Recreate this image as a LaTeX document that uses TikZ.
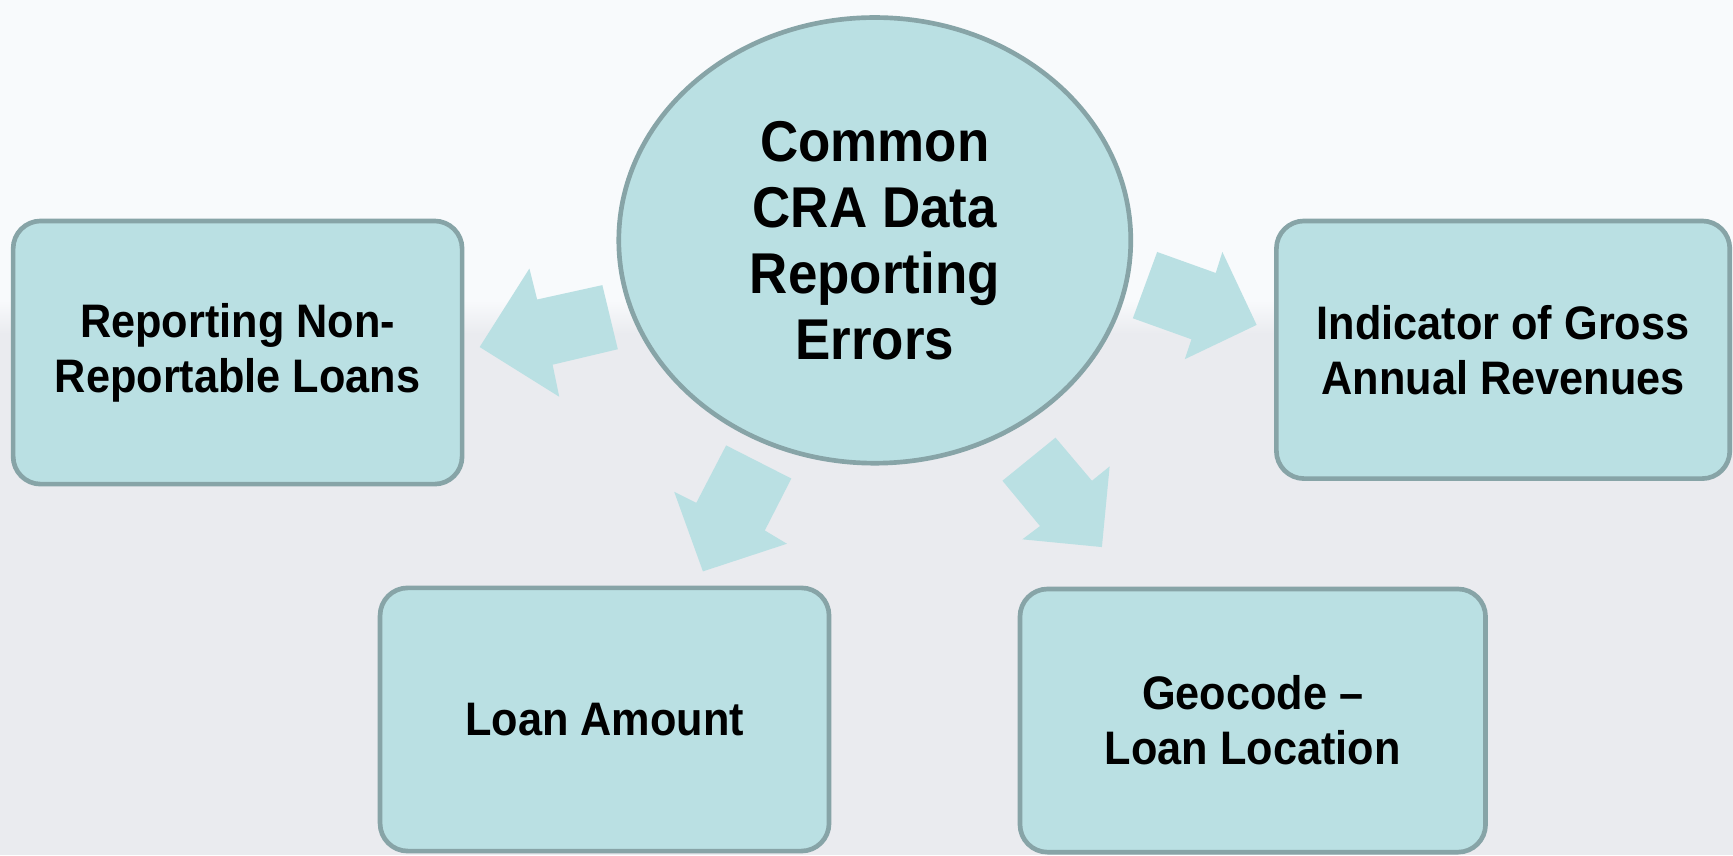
\documentclass[tikz,border=0pt]{standalone}
\usepackage{fontspec}
\setmainfont{Liberation Sans}[FakeStretch=0.92]
\usepackage{xcolor}
\usepackage{tikz}
\usetikzlibrary{shapes.geometric}

\definecolor{boxfill}{HTML}{BAE0E3}
\definecolor{boxline}{HTML}{87A4A7}
\definecolor{bgtop}{HTML}{F8FAFC}
\definecolor{bgbot}{HTML}{EAEBEF}

\begin{document}
\begin{tikzpicture}[x=0.01cm,y=-0.01cm,semithick]
	\tikzstyle{topic}=[draw=boxline, line width=1.2pt, fill=boxfill, rounded corners=0.25cm, align=center, inner sep=0pt, font=\bfseries\fontsize{12.1}{14.2}\selectfont]
	\tikzstyle{hub}=[draw=boxline, line width=1.2pt, fill=boxfill, ellipse, align=center, inner sep=0pt, font=\bfseries\fontsize{14.8}{17}\selectfont]
	\tikzstyle{blockarr}=[fill=boxfill, draw=none]
	% page and background
	\useasboundingbox (0,0) rectangle (1568,774);
	\fill[bgbot] (0,0) rectangle (1568,774);
	\fill[bgtop] (0,0) rectangle (1568,272);
	\shade[top color=bgtop, bottom color=bgbot] (0,272) rectangle (1568,302);
	% centre
	\node[hub, minimum width=4.63cm, minimum height=4.03cm] (errors) at (791.5,217.5) {Common\\CRA Data\\Reporting\\Errors};
	% the four topics
	\node[topic, minimum width=4.06cm, minimum height=2.38cm] (nonrep) at (215,319) {Reporting Non-\\Reportable Loans};
	\node[topic, minimum width=4.10cm, minimum height=2.33cm] (revenue) at (1360,316.5) {Indicator of Gross\\Annual Revenues};
	\node[topic, minimum width=4.06cm, minimum height=2.38cm] (amount) at (547,651) {Loan Amount};
	\node[topic, minimum width=4.21cm, minimum height=2.38cm] (geocode) at (1133.5,652) {Geocode --\\Loan Location};
	% block arrows
	\fill[blockarr] (434,314) -- (479,243) -- (486,271) -- (545,258) -- (559,316) -- (500,330) -- (506,359) -- cycle;
	\fill[blockarr] (1137,294) -- (1072,325) -- (1078,307) -- (1025,288) -- (1047,228) -- (1100,247) -- (1106,228) -- cycle;
	\fill[blockarr] (636,517) -- (610,445) -- (630,455) -- (657,403) -- (716,433) -- (692,480) -- (712,492) -- cycle;
	\fill[blockarr] (997,495) -- (925,488) -- (941,476) -- (907,435) -- (955,396) -- (988,435) -- (1004,422) -- cycle;
\end{tikzpicture}
\end{document}
